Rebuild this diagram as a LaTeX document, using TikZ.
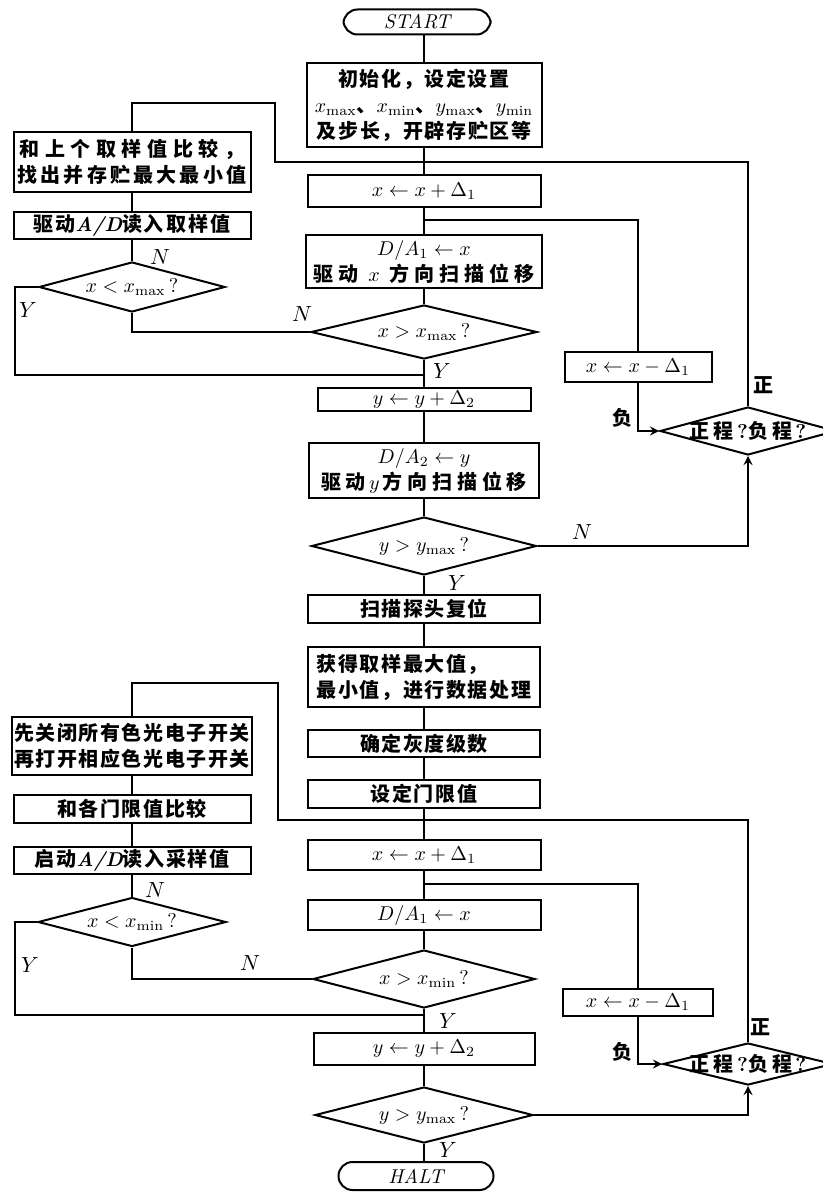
\documentclass[tikz,border=0pt]{standalone}
\usepackage{fontspec}
\newfontfamily\cjk[LetterSpace=8]{Noto Sans CJK SC}
\usetikzlibrary{shapes.geometric}
\newcommand{\zh}{\cjk\bfseries\fontsize{10pt}{13pt}\selectfont}
\newcommand{\ls}[1]{\addfontfeature{LetterSpace=#1}}
\newcommand{\lat}[1]{{\rmfamily\itshape #1}}
\begin{document}
\begin{tikzpicture}[x=0.5pt, y=-0.5pt, >=stealth,
    box/.style={draw, line width=1pt, inner sep=1pt, align=center, font=\zh},
    decision/.style={diamond, draw, line width=1pt, inner sep=0pt, shape aspect=4, font=\zh},
    term/.style={draw, line width=1pt, rounded corners=7pt, inner sep=0pt, font=\itshape},
    flow/.style={line width=1pt},
    yn/.style={font=\fontsize{11pt}{13pt}\selectfont},
    sgn/.style={font=\zh}]
    \useasboundingbox (0,0) rectangle (823,1193);

    % Main column, first pass
    \node[term, minimum width=73.5pt, minimum height=12.5pt] (start) at (417,22) {START};
    \node[box, minimum width=117.5pt, minimum height=42pt] (init) at (424,105)
        {初始化，设定设置\\$x_{\max}$、$x_{\min}$、$y_{\max}$、$y_{\min}$\\及步长，开辟存贮区等};
    \coordinate (j1) at (424,162);
    \node[box, minimum width=116.5pt, minimum height=16pt] (xinc) at (424,191) {$x\leftarrow x+\Delta_1$};
    \coordinate (j2) at (424,220);
    \node[box, minimum width=118pt, minimum height=26.5pt] (dax) at (424,261.5)
        {$D/A_1\leftarrow x$\\\ls{25}驱动 $x$ 方向扫描位移};
    \node[decision, minimum width=113pt, minimum height=27pt] (dec1) at (424,332) {$x>x_{\max}\,?$};
    \node[box, minimum width=106.5pt, minimum height=11.5pt] (ydel) at (424,399.5) {$y\leftarrow y+\Delta_2$};
    \node[box, minimum width=115pt, minimum height=27.5pt] (day) at (424,470.5)
        {$D/A_2\leftarrow y$\\\ls{24}驱动\,$y$\,方向扫描位移};
    \node[decision, minimum width=112.5pt, minimum height=29pt] (dec2) at (424,546) {$y>y_{\max}\,?$};
    \node[box, minimum width=116pt, minimum height=14pt] (reset) at (424,609) {扫描探头复位};
    \node[box, align=left, minimum width=116pt, minimum height=30pt] (proc) at (424,677)
        {获得取样最大值，\\最小值，进行数据处理};
    \node[box, minimum width=116pt, minimum height=13.5pt] (gray) at (424,743.5) {确定灰度级数};
    \node[box, minimum width=116pt, minimum height=14pt] (thr) at (424,794) {设定门限值};

    % Main column, second pass
    \coordinate (j3) at (424,820);
    \node[box, minimum width=116.5pt, minimum height=15pt] (xinc2) at (424,855) {$x\leftarrow x+\Delta_1$};
    \coordinate (j4) at (424,884);
    \node[box, minimum width=116.5pt, minimum height=15pt] (dax2) at (424,915) {$D/A_1\leftarrow x$};
    \node[decision, minimum width=111pt, minimum height=29pt] (dec3) at (424,979) {$x>x_{\min}\,?$};
    \node[box, minimum width=110.5pt, minimum height=16pt] (ydel2) at (424,1049) {$y\leftarrow y+\Delta_2$};
    \node[decision, minimum width=109pt, minimum height=28pt] (dec4) at (424,1115) {$y>y_{\max}\,?$};
    \node[term, minimum width=77.5pt, minimum height=14pt] (halt) at (416,1176) {HALT};

    % Left side
    \node[box, minimum width=118.5pt, minimum height=30pt] (cmp) at (132,162)
        {\ls{28}和上个取样值比较，\\\ls{16}找出并存贮最大最小值};
    \node[box, minimum width=118.5pt, minimum height=12.5pt] (rd) at (132,225.5) {驱动\lat{A/D}读入\,取样值};
    \node[decision, minimum width=93pt, minimum height=25pt] (ldec1) at (132,287) {$x<x_{\max}\,?$};
    \node[box, minimum width=118.5pt, minimum height=29pt] (sw) at (132,746)
        {先关闭所有色光电子开关\\再打开相应色光电子开关};
    \node[box, minimum width=118.5pt, minimum height=14pt] (cmpthr) at (132,809) {和各门限值比较};
    \node[box, minimum width=118.5pt, minimum height=12.5pt] (rd2) at (132,860.5) {启动\lat{A/D}读入采样值};
    \node[decision, minimum width=94pt, minimum height=24.5pt] (ldec2) at (132,922) {$x<x_{\min}\,?$};

    % Right side
    \node[box, minimum width=73.5pt, minimum height=15pt] (xdec) at (638,367) {$x\leftarrow x-\Delta_1$};
    \node[decision, inner sep=-4pt, minimum width=88pt, minimum height=24pt] (sdec1) at (748,431)
        {\ls{20}正程{\rmfamily\,?}负程{\rmfamily\,?}};
    \node[box, minimum width=75pt, minimum height=13.5pt] (xdec2) at (638,1002.5) {$x\leftarrow x-\Delta_1$};
    \node[decision, inner sep=-4pt, minimum width=85pt, minimum height=21pt] (sdec2) at (748,1064)
        {\ls{20}正程{\rmfamily\,?}负程{\rmfamily\,?}};

    % Free ends of the loops
    \coordinate (lp1) at (275,103);
    \coordinate (ly1) at (15,375);
    \coordinate (lp2) at (278,683);
    \coordinate (ly2) at (15,1015);

    % Main flow
    \draw[flow] (start.south -| init) -- (init);
    \draw[flow] (init) -- (xinc);
    \draw[flow] (xinc) -- (dax);
    \draw[flow] (dax) -- (dec1);
    \draw[flow] (dec1) -- (ydel);
    \draw[flow] (ydel) -- (day);
    \draw[flow] (day) -- (dec2);
    \draw[flow] (dec2) -- (reset);
    \draw[flow] (reset) -- (proc);
    \draw[flow] (proc) -- (gray);
    \draw[flow] (gray) -- (thr);
    \draw[flow] (thr) -- (xinc2);
    \draw[flow] (xinc2) -- (dax2);
    \draw[flow] (dax2) -- (dec3);
    \draw[flow] (dec3) -- (ydel2);
    \draw[flow] (ydel2) -- (dec4);
    \draw[flow] (dec4.south) -- (dec4.south |- halt.north);

    % Upper loops
    \draw[flow] (dec1.west) -| (ldec1.south);
    \draw[flow] (ldec1) -- (rd);
    \draw[flow] (rd) -- (cmp);
    \draw[flow] (cmp.north) |- (lp1) |- (j1);
    \draw[flow] (ldec1.west) -| (ly1) -- (ly1 -| ydel);
    \draw[flow] (j2) -| (xdec);
    \draw[flow, ->] (xdec) |- (sdec1.west);
    \draw[flow, ->] (dec2.east) -| (sdec1.south);
    \draw[flow] (sdec1.north) |- (j1);

    % Lower loops
    \draw[flow] (dec3.west) -| (ldec2.south);
    \draw[flow] (ldec2) -- (rd2);
    \draw[flow] (rd2) -- (cmpthr);
    \draw[flow] (cmpthr) -- (sw);
    \draw[flow] (sw.north) |- (lp2) |- (j3);
    \draw[flow] (ldec2.west) -| (ly2) -- (ly2 -| ydel2);
    \draw[flow] (j4) -| (xdec2);
    \draw[flow, ->] (xdec2) |- (sdec2.west);
    \draw[flow, ->] (dec4.east) -| (sdec2.south);
    \draw[flow] (sdec2.north) |- (j3);

    % Branch labels
    \node[yn] (n1) at (302,314) {$N$};
    \node[yn] (y1) at (442,371) {$Y$};
    \node[yn] (n2) at (160,257) {$N$};
    \node[yn] (y2) at (28,310) {$Y$};
    \node[sgn] (zh1) at (763,385) {正};
    \node[sgn] (fu1) at (622,418) {负};
    \node[yn] (n3) at (582,532) {$N$};
    \node[yn] (y3) at (457,583) {$Y$};
    \node[yn] (n4) at (155,890) {$N$};
    \node[yn] (n5) at (250,963) {$N$};
    \node[yn] (y4) at (30,965) {$Y$};
    \node[yn] (y5) at (448,1021) {$Y$};
    \node[sgn] (zh2) at (760,1027) {正};
    \node[sgn] (fu2) at (622,1052) {负};
    \node[yn] (y6) at (448,1150) {$Y$};
\end{tikzpicture}
\end{document}
